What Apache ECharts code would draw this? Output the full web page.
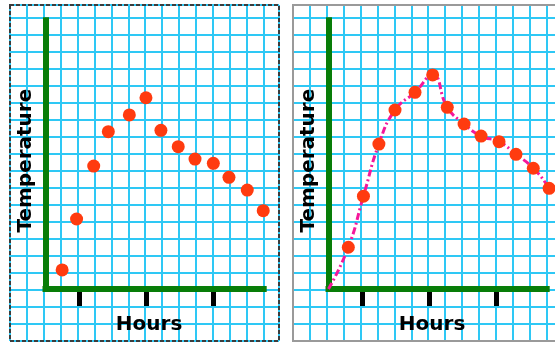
<!DOCTYPE html>
<html>
<head>
<meta charset="utf-8">
<script src="https://cdn.jsdelivr.net/npm/echarts@6/dist/echarts.min.js"></script>
<style>
html, body { margin: 0; padding: 0; background: #fff; }
#chart { width: 555px; height: 345px; }
</style>
</head>
<body>
<div id="chart"></div>
<script>
// values, in grid squares from the origin
var leftHours  = [0.99, 1.85, 2.87, 3.74, 4.99, 5.98, 6.87, 7.90, 8.90, 9.99, 10.92, 12.01, 12.96];
var leftTemps  = [1.12, 4.11, 7.22, 9.24, 10.22, 11.23, 9.32, 8.36, 7.63, 7.38, 6.56, 5.81, 4.60];
var rightHours = [1.18, 2.08, 3.00, 3.96, 5.15, 6.20, 7.07, 8.07, 9.08, 10.15, 11.16, 12.19, 13.13];
var rightTemps = [2.45, 5.45, 8.51, 10.51, 11.55, 12.57, 10.67, 9.69, 8.98, 8.65, 7.91, 7.09, 5.91];
var curveStart = [0, 0];
var curveEnd   = [13.42, 5.23];
var hourTicks  = [2, 6, 10];

var GREEN = '#087d08', CYAN = '#2ec8f5', RED = '#ff3b0f', PINK = '#f5179b';
var UX = 16.8, UY = 17.03;          // px per square (data grids)
var PX = 16.9;                      // px per square (paper)
var offsets = [0, 283];             // second panel is shifted right

function zip(xs, ys) {
    return xs.map(function (x, i) { return [x, ys[i]]; });
}

var grid = [], xAxis = [], yAxis = [], series = [], graphic = [];
var labelFont = { color: '#000', fontFamily: 'DejaVu Sans', fontWeight: 'bold', fontSize: 20 };

offsets.forEach(function (off, p) {
    // graph paper
    grid.push({ left: 10 + off, top: 5, width: 269, height: 336, outerBoundsMode: 'none' });
    xAxis.push({
        type: 'value', gridIndex: 2 * p, min: -1, max: 269 / PX - 1, interval: 1, z: 0,
        axisLine: { show: false }, axisTick: { show: false }, axisLabel: { show: false },
        splitLine: { show: true, lineStyle: { color: CYAN, width: 2 } }
    });
    yAxis.push({
        type: 'value', gridIndex: 2 * p, min: -0.8, max: 336 / UY - 0.8, interval: 1, z: 0,
        axisLine: { show: false }, axisTick: { show: false }, axisLabel: { show: false },
        splitLine: { show: true, lineStyle: { color: CYAN, width: 2 } }
    });

    // chart axes
    var gl = 45.5 + off, gt = 20.3, gw = 218.2, gh = 268.7;
    grid.push({ left: gl, top: gt, width: gw, height: gh, outerBoundsMode: 'none' });
    xAxis.push({
        type: 'value', gridIndex: 2 * p + 1, position: 'bottom', min: 0, max: gw / UX, z: 1,
        axisLine: { show: true, onZero: false, lineStyle: { color: GREEN, width: 6, cap: 'square' } },
        axisTick: { show: false }, axisLabel: { show: false }, splitLine: { show: false },
        name: 'Hours', nameLocation: 'middle', nameGap: 26,
        nameTextStyle: Object.assign({ padding: [0, 11, 0, 0] }, labelFont)
    });
    xAxis.push({
        type: 'value', gridIndex: 2 * p + 1, position: 'bottom', min: 0, max: gw / UX, offset: 3, z: 1,
        axisLine: { show: false, onZero: false },
        axisTick: { show: true, inside: false, customValues: hourTicks, length: 14, lineStyle: { color: '#000', width: 5 } },
        axisLabel: { show: false }, splitLine: { show: false }
    });
    yAxis.push({
        type: 'value', gridIndex: 2 * p + 1, position: 'left', min: 0, max: gh / UY, z: 1,
        axisLine: { show: true, onZero: false, lineStyle: { color: GREEN, width: 6, cap: 'square' } },
        axisTick: { show: false }, axisLabel: { show: false }, splitLine: { show: false },
        name: 'Temperature', nameLocation: 'middle', nameRotate: 90, nameGap: 10,
        nameTextStyle: Object.assign({ padding: [0, 12, 0, 0] }, labelFont)
    });

    // panel frames
    graphic.push({
        type: 'rect', z: 100, silent: true,
        shape: { x: 10 + off, y: 5, width: 269, height: 336 },
        style: p === 0
            ? { fill: null, stroke: '#3c3c3c', lineWidth: 2, lineDash: [4, 2] }
            : { fill: null, stroke: '#9a9a9a', lineWidth: 2 }
    });
});

series.push({
    type: 'scatter', xAxisIndex: 1, yAxisIndex: 1, z: 3, clip: false,
    symbol: 'circle', symbolSize: 13, itemStyle: { color: RED, opacity: 1 },
    data: zip(leftHours, leftTemps)
});
series.push({
    type: 'line', xAxisIndex: 4, yAxisIndex: 3, z: 2, clip: false,
    smooth: 0.5, showSymbol: false, symbol: 'none',
    lineStyle: { color: PINK, width: 3, type: [7, 3, 2, 3] },
    data: [curveStart].concat(zip(rightHours, rightTemps), [curveEnd])
});
series.push({
    type: 'scatter', xAxisIndex: 4, yAxisIndex: 3, z: 3, clip: false,
    symbol: 'circle', symbolSize: 13, itemStyle: { color: RED, opacity: 1 },
    data: zip(rightHours, rightTemps)
});

var chart = echarts.init(document.getElementById('chart'));
chart.setOption({
    backgroundColor: '#fff',
    animation: false,
    grid: grid,
    xAxis: xAxis,
    yAxis: yAxis,
    series: series,
    graphic: graphic
});
</script>
</body>
</html>
